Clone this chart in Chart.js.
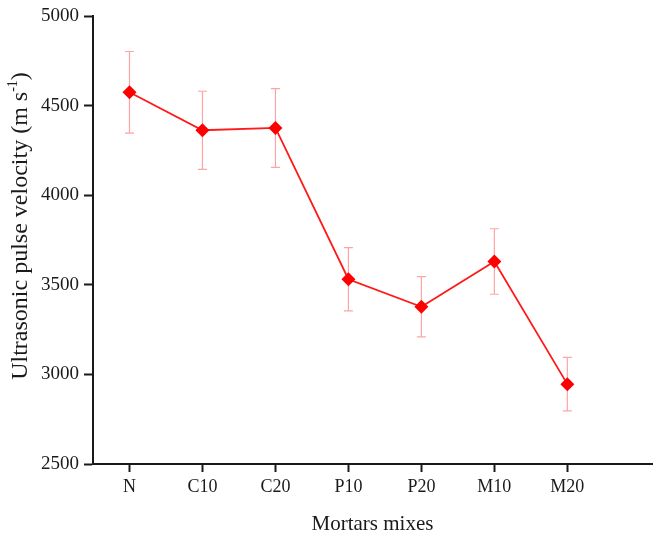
<!DOCTYPE html>
<html>
<head>
<meta charset="utf-8">
<script src="https://cdn.jsdelivr.net/npm/chart.js@4.4.0/dist/chart.umd.min.js"></script>
<style>
  html, body { margin: 0; padding: 0; background: #ffffff; }
  #wrap { width: 659px; height: 537px; }
</style>
</head>
<body>
<div id="wrap"><canvas id="upvChart" width="659" height="537"></canvas></div>
<script>
const mixes = ["N", "C10", "C20", "P10", "P20", "M10", "M20"];
const velocity = [4576, 4364, 4377, 3532, 3378, 3631, 2946];
const errors = [228, 218, 220, 177, 168, 183, 149];
const yTicks = [2500, 3000, 3500, 4000, 4500, 5000];

const serif = "'Liberation Serif', 'Times New Roman', serif";
const ink = '#1a1a1a';

// error bars drawn through the chart's own scales
const errorBars = {
    id: 'errorBars',
    beforeDatasetsDraw(chart) {
        const ctx = chart.ctx;
        const xs = chart.scales.x;
        const ys = chart.scales.y;
        ctx.save();
        ctx.strokeStyle = 'rgba(255, 90, 90, 0.55)';
        ctx.lineWidth = 1.2;
        for (let i = 0; i < velocity.length; i++) {
            const px = xs.getPixelForValue(i + 1);
            const top = ys.getPixelForValue(velocity[i] + errors[i]);
            const bot = ys.getPixelForValue(velocity[i] - errors[i]);
            ctx.beginPath();
            ctx.moveTo(px, top);
            ctx.lineTo(px, bot);
            ctx.moveTo(px - 4.5, top);
            ctx.lineTo(px + 4.5, top);
            ctx.moveTo(px - 4.5, bot);
            ctx.lineTo(px + 4.5, bot);
            ctx.stroke();
        }
        ctx.restore();
    }
};

// y axis title with a real superscript
const yTitle = {
    id: 'yTitle',
    afterDraw(chart) {
        const ctx = chart.ctx;
        const main = 'Ultrasonic pulse velocity (m s';
        const sup = '-1';
        const end = ')';
        ctx.save();
        ctx.translate(21, 226);
        ctx.rotate(-Math.PI / 2);
        ctx.fillStyle = ink;
        ctx.textBaseline = 'middle';
        ctx.font = '24px ' + serif;
        const w1 = ctx.measureText(main).width;
        const w3 = ctx.measureText(end).width;
        ctx.font = '14px ' + serif;
        const w2 = ctx.measureText(sup).width;
        let x = -(w1 + w2 + w3) / 2;
        ctx.font = '24px ' + serif;
        ctx.fillText(main, x, 0);
        x += w1;
        ctx.font = '14px ' + serif;
        ctx.fillText(sup, x, -8);
        x += w2;
        ctx.font = '24px ' + serif;
        ctx.fillText(end, x, 0);
        ctx.restore();
    }
};

const ctx = document.getElementById('upvChart').getContext('2d');
new Chart(ctx, {
    type: 'line',
    data: {
        datasets: [{
            label: 'Ultrasonic pulse velocity',
            data: velocity.map((v, i) => ({ x: i + 1, y: v })),
            borderColor: '#ff1a1a',
            borderWidth: 1.8,
            backgroundColor: '#ff0000',
            pointStyle: 'rectRot',
            pointRadius: 7,
            pointBorderWidth: 0,
            pointBackgroundColor: '#ff0000',
            tension: 0
        }]
    },
    options: {
        responsive: false,
        animation: false,
        layout: {
            padding: { top: 16, right: 0, left: 0, bottom: 0 }
        },
        plugins: {
            legend: { display: false },
            tooltip: { enabled: false }
        },
        scales: {
            x: {
                type: 'linear',
                min: 0.5,
                max: 8.16,
                afterBuildTicks: (scale) => {
                    scale.ticks = mixes.map((m, i) => ({ value: i + 1 }));
                },
                afterFit: (scale) => { scale.height = 73; },
                ticks: {
                    callback: (val) => mixes[val - 1] || '',
                    color: ink,
                    font: { family: serif, size: 18 },
                    padding: 4,
                    maxRotation: 0,
                    autoSkip: false
                },
                grid: {
                    display: true,
                    drawOnChartArea: false,
                    drawTicks: true,
                    tickLength: 8,
                    tickWidth: 2,
                    tickColor: ink
                },
                border: { color: ink, width: 2 },
                title: {
                    display: true,
                    text: 'Mortars mixes',
                    color: ink,
                    font: { family: serif, size: 21 },
                    padding: { top: 6, bottom: 0 }
                }
            },
            y: {
                min: 2500,
                max: 5000,
                afterBuildTicks: (scale) => {
                    scale.ticks = yTicks.map(v => ({ value: v }));
                },
                afterFit: (scale) => { scale.width = 93; },
                ticks: {
                    callback: (val) => String(val),
                    color: ink,
                    font: { family: serif, size: 19 },
                    padding: 5
                },
                grid: {
                    display: true,
                    drawOnChartArea: false,
                    drawTicks: true,
                    tickLength: 9,
                    tickWidth: 2,
                    tickColor: ink
                },
                border: { color: ink, width: 2 },
                title: { display: false }
            }
        }
    },
    plugins: [errorBars, yTitle]
});
</script>
</body>
</html>
